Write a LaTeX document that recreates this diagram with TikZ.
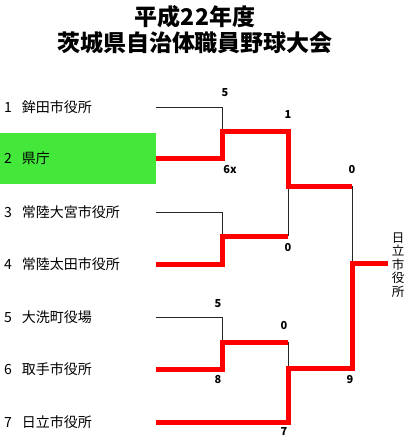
\documentclass[tikz,border=0pt]{standalone}
\usepackage{fontspec}
\setmainfont{Noto Sans CJK JP}
\usetikzlibrary{positioning}
\definecolor{winred}{RGB}{255,0,0}
\definecolor{seedgreen}{RGB}{68,232,58}
\tikzset{
  win/.style={line width=5pt, winred},
  lose/.style={line width=0.8pt, black!85},
  team/.style={anchor=west, inner sep=0pt, font=\fontsize{14}{14}\selectfont},
  score/.style={inner sep=0pt, font=\bfseries\fontsize{11}{11}\selectfont},
}
\begin{document}
\begin{tikzpicture}[x=1pt, y=-1pt]
  \useasboundingbox (0,0) rectangle (410,437);

  % 1. 表題
  \node[align=center, font=\bfseries\fontsize{23}{26}\selectfont] (title) at (195,30)
    {平成22年度\\茨城県自治体職員野球大会};

  % 2. シード枠の背景
  \fill[seedgreen] (0,133) rectangle (156,184);

  % 3. 出場チーム
  \node[team] (t1) at (4,107) {1\hspace{10pt}鉾田市役所};
  \node[team] (t2) at (4,158) {2\hspace{10pt}県庁};
  \node[team] (t3) at (4,212) {3\hspace{10pt}常陸大宮市役所};
  \node[team] (t4) at (4,264) {4\hspace{10pt}常陸太田市役所};
  \node[team] (t5) at (4,317) {5\hspace{10pt}大洗町役場};
  \node[team] (t6) at (4,369) {6\hspace{10pt}取手市役所};
  \node[team] (t7) at (4,422) {7\hspace{10pt}日立市役所};

  % 4. 組合せの節点
  \foreach \i/\y in {1/107, 2/158, 3/212, 4/264, 5/317, 6/369, 7/422}
    \coordinate (e\i) at (156,\y);
  \coordinate (ma) at (222,131);
  \coordinate (mb) at (222,236);
  \coordinate (mc) at (222,342);
  \coordinate (md) at (288,186);
  \coordinate (me) at (288,368);
  \coordinate (mf) at (352,263);
  \coordinate (champ) at (388,263);

  % 5. 敗退側の細線
  \draw[lose] (e1) -| (ma);
  \draw[lose] (e3) -| (mb);
  \draw[lose] (e5) -| (mc);
  \draw[lose] (mb -| md) -- (md);
  \draw[lose] (mc -| me) -- (me);
  \draw[lose] (md -| mf) -- (mf);

  % 6. 勝ち上がりの赤線
  \draw[win] (e2) -| (ma) -| (md) -- (md -| mf);
  \draw[win] (e4) -| (mb) -- (mb -| md);
  \draw[win] (e6) -| (mc) -- (mc -| me);
  \draw[win] (e7) -| (me) -| (mf) -- (champ);

  % 7. 得点
  \node[score] (s1) at (225,93) {5};
  \node[score] (s2) at (230,170) {6x};
  \node[score] (s3) at (288,115) {1};
  \node[score] (s4) at (352,170) {0};
  \node[score] (s5) at (288,248) {0};
  \node[score] (s6) at (218,304) {5};
  \node[score] (s7) at (218,380) {8};
  \node[score] (s8) at (284,326) {0};
  \node[score] (s9) at (284,432) {7};
  \node[score] (s10) at (350,380) {9};

  % 8. 優勝チーム
  \node[align=center, inner sep=0pt, font=\fontsize{12.5}{13.5}\selectfont] (winner) at (398,265)
    {日\\立\\市\\役\\所};
\end{tikzpicture}
\end{document}
